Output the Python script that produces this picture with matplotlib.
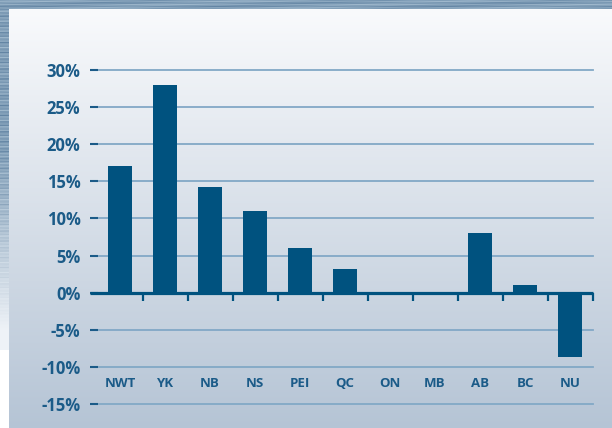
import numpy as np
import matplotlib
matplotlib.use('Agg')
import matplotlib.pyplot as plt

# Datos del gráfico
provincias = ['NWT', 'YK', 'NB', 'NS', 'PEI', 'QC', 'ON', 'MB', 'AB', 'BC', 'NU']
valores = [17.0, 28.0, 14.2, 11.0, 6.0, 3.2, 0.0, 0.0, 8.0, 1.1, -8.7]
marcas_y = [-15, -10, -5, 0, 5, 10, 15, 20, 25, 30]
etiquetas_y = ['-15%', '-10%', '-5%', '0%', '5%', '10%', '15%', '20%', '25%', '30%']

azul_barra = '#00527f'
azul_texto = '#1b5b88'
azul_rejilla = '#82a8c6'

W, H = 612, 428
fig = plt.figure(figsize=(W / 100, H / 100), dpi=100)

# Fondo: franja de agua arriba y a la izquierda, panel con degradado
fondo = np.ones((H, W, 3))
filas = np.arange(H)[:, None]
cols = np.arange(W)[None, :]
t = (filas - 9) / (H - 9)
arriba = np.array([249, 250, 252]) / 255
abajo = np.array([181, 196, 213]) / 255
fondo[:] = arriba + (abajo - arriba) * np.clip(t, 0, 1)[..., None]
vetas = (0.5 + 0.25 * np.sin(filas * 1.9) + 0.15 * np.sin(filas * 0.7 + cols * 0.03)
         + 0.1 * np.sin(cols * 0.11 + filas * 3.1))
agua = np.array([98, 132, 163]) / 255
agua_claro = np.array([160, 185, 205]) / 255
tex = agua + (agua_claro - agua) * vetas[..., None]
fondo[:9, :] = tex[:9, :]
mezcla = np.clip((filas[:, 0] - 150) / 180, 0, 1)[:, None, None]
izq = tex[:, :9] * (1 - mezcla) + np.array([238, 242, 247]) / 255 * mezcla
fondo[9:350, :9] = izq[9:350]
fondo[350:, :9] = 1.0
ax_fondo = fig.add_axes([0, 0, 1, 1])
ax_fondo.imshow(fondo, aspect='auto', extent=(0, W, H, 0))
ax_fondo.axis('off')

# Ejes principales
ax = fig.add_axes([97.5 / W, (H - 404) / H, 495 / W, 334 / H])
ax.set_facecolor('none')
x = np.arange(len(provincias))
ax.bar(x, valores, width=0.53, color=azul_barra, zorder=3)

for v in marcas_y:
    if v != 0:
        ax.axhline(v, color=azul_rejilla, lw=1.3, zorder=1, clip_on=False)
ax.plot([-0.5 - 8 / 45, 10.5], [0, 0], color=azul_barra, lw=2.3, zorder=4,
        clip_on=False, solid_capstyle='butt')
ax.vlines(x + 0.5, -1.1, 0, color=azul_barra, lw=1.6, zorder=4, clip_on=False)

ax.set_xlim(-0.5, 10.5)
ax.set_ylim(-15, 30)
ax.set_yticks(marcas_y)
ax.set_yticklabels(etiquetas_y, fontfamily='Open Sans', fontweight='bold',
                   fontsize=12, color=azul_texto)
ax.tick_params(axis='y', direction='out', length=5.8, width=1.5, color=azul_texto, pad=6.5)
ax.set_xticks([])
for s in ax.spines.values():
    s.set_visible(False)

for xi, nombre in zip(x, provincias):
    ax.text(xi, -12.3, nombre, ha='center', va='center', fontfamily='Open Sans',
            fontweight='bold', fontsize=9.5, color=azul_texto)

fig.savefig('out.png', dpi=100)
